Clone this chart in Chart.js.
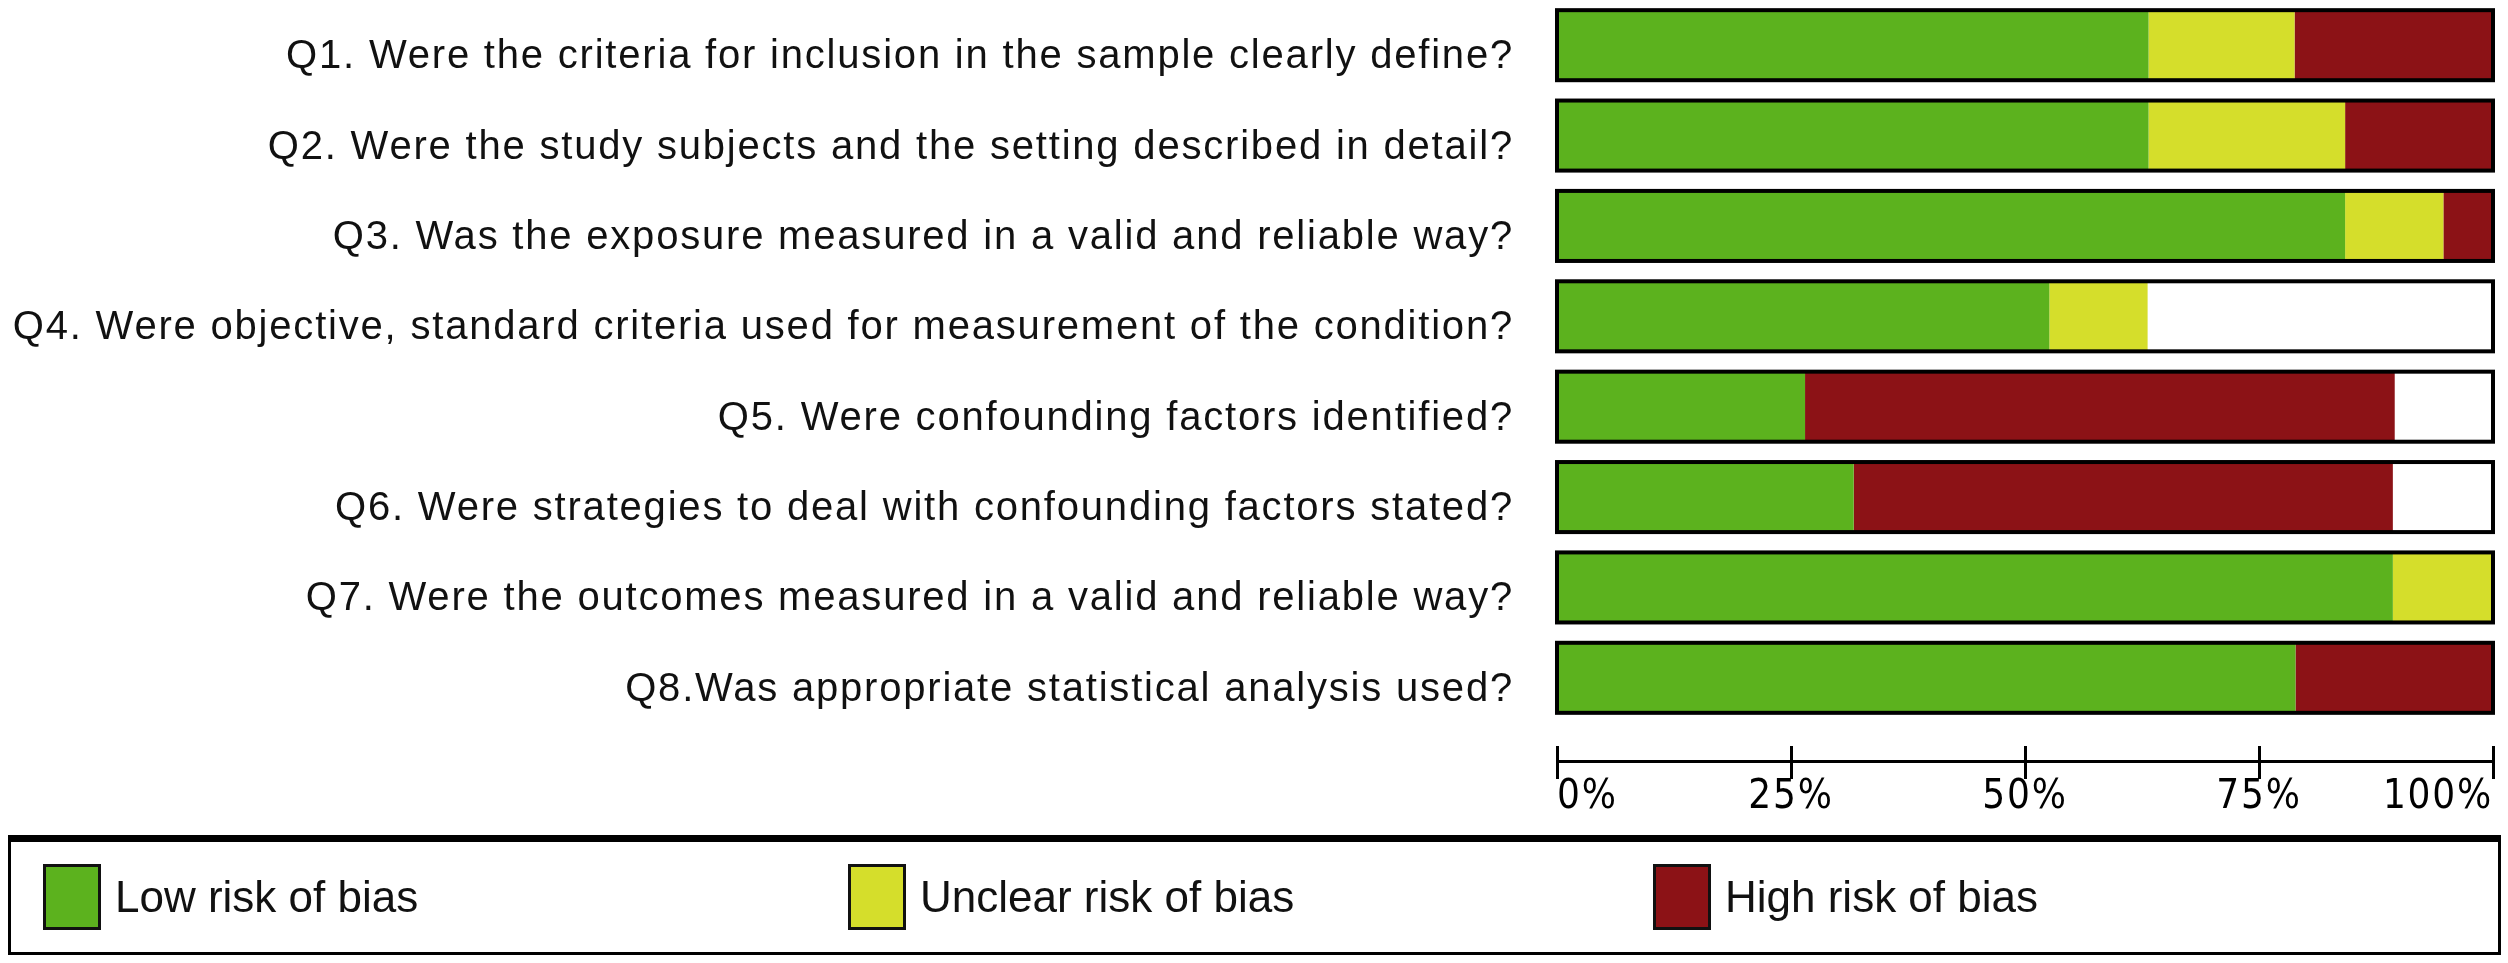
<!DOCTYPE html>
<html>
<head>
<meta charset="utf-8">
<script src="https://cdn.jsdelivr.net/npm/chart.js@4.4.1/dist/chart.umd.min.js"></script>
<style>
  html, body { margin: 0; padding: 0; background: #fff; }
  #wrap { position: relative; width: 2508px; height: 963px; }
  #legend {
    position: absolute; left: 8px; top: 835px; width: 2493px; height: 120px;
    box-sizing: border-box; border: 3px solid #000; border-top-width: 7px;
    display: flex; align-items: center;
  }
  .item { width: 805px; display: flex; align-items: center; padding-left: 32px; box-sizing: border-box; }
  .box { width: 58px; height: 66px; border: 3px solid #111; box-sizing: border-box; }
  .lbl { font: 44px 'Liberation Sans', Arial, sans-serif; color: #111; margin-left: 14px; }
</style>
</head>
<body>
<div id="wrap">
  <canvas id="chart"></canvas>
  <div id="legend"></div>
</div>
<script>
var questions = [
  'Q1. Were the criteria for inclusion in the sample clearly define?',
  'Q2. Were the study subjects and the setting described in detail?',
  'Q3. Was the exposure measured in a valid and reliable way?',
  'Q4. Were objective, standard criteria used for measurement of the condition?',
  'Q5. Were confounding factors identified?',
  'Q6. Were strategies to deal with confounding factors stated?',
  'Q7. Were the outcomes measured in a valid and reliable way?',
  'Q8.Was appropriate statistical analysis used?'
];
// percent of studies per judgement
var lowRisk     = [63.2, 63.2, 84.2, 52.6, 26.5, 31.7, 89.3, 78.9];
var unclearRisk = [15.6, 21.0, 10.5, 10.5, 0,    0,    10.7, 0];
var highRisk    = [21.2, 15.8, 5.3,  0,    63.0, 57.6, 0,    21.1];
var xTicks = [0, 25, 50, 75, 100];

var seriesNames = ['Low risk of bias', 'Unclear risk of bias', 'High risk of bias'];
var seriesColors = ['#5cb21e', '#d5de2b', '#8c1216'];

// black frame round every full 0-100% bar
var barFrames = {
  id: 'barFrames',
  afterDatasetsDraw: function(chart) {
    var ctx = chart.ctx;
    var x = chart.scales.x;
    var meta = chart.getDatasetMeta(0);
    var left = x.getPixelForValue(0), right = x.getPixelForValue(100);
    ctx.save();
    ctx.strokeStyle = '#000';
    ctx.lineWidth = 4;
    meta.data.forEach(function(bar) {
      ctx.strokeRect(left, bar.y - bar.height / 2, right - left, bar.height);
    });
    ctx.restore();
  }
};

// the original lettering is spaced out a bit
var spacedText = {
  id: 'spacedText',
  beforeDraw: function(chart) { chart.ctx.letterSpacing = '1.8px'; },
  afterDraw: function(chart) { chart.ctx.letterSpacing = '0px'; }
};

var axisAt = { y: 7.93 };

new Chart(document.getElementById('chart'), {
  type: 'bar',
  data: {
    labels: questions,
    datasets: [
      { label: seriesNames[0], data: lowRisk, backgroundColor: seriesColors[0] },
      { label: seriesNames[1], data: unclearRisk, backgroundColor: seriesColors[1] },
      { label: seriesNames[2], data: highRisk, backgroundColor: seriesColors[2] }
    ]
  },
  options: {
    indexAxis: 'y',
    responsive: true,
    maintainAspectRatio: false,
    animation: false,
    barPercentage: 0.775,
    categoryPercentage: 1,
    layout: { padding: { left: 0, right: 15, top: 0, bottom: 240 } },
    plugins: { legend: { display: false }, tooltip: { enabled: false } },
    scales: {
      y: {
        stacked: true,
        grid: { display: false },
        border: { display: false },
        ticks: {
          padding: 35,
          labelOffset: 12,
          color: '#111',
          font: { family: "'Liberation Sans', Arial, sans-serif", size: 40 }
        },
        afterFit: function(scale) {
          scale.width = 1557;
          scale.paddingTop = 0;
          scale.paddingBottom = 0;
        }
      },
      x: {
        stacked: true,
        min: 0, max: 100,
        position: axisAt,
        grid: { drawOnChartArea: false, tickLength: 16, color: '#000', lineWidth: 3 },
        border: { display: true, color: '#000', width: 3 },
        afterBuildTicks: function(scale) { scale.ticks = xTicks.map(function(v) { return { value: v }; }); },
        ticks: {
          align: 'inner',
          padding: 0,
          maxRotation: 0,
          color: '#000',
          font: { family: "'Liberation Sans Narrow', 'Arial Narrow', 'DejaVu Sans Condensed', sans-serif", size: 40, lineHeight: 1 },
          callback: function(v) { return v + '%'; }
        }
      },
      x2: {
        type: 'linear',
        min: 0, max: 100,
        position: axisAt,
        grid: { drawOnChartArea: false, tickLength: -16, color: '#000', lineWidth: 3 },
        border: { display: false },
        afterBuildTicks: function(scale) { scale.ticks = xTicks.map(function(v) { return { value: v }; }); },
        ticks: { display: false }
      }
    }
  },
  plugins: [barFrames, spacedText]
});

var legend = document.getElementById('legend');
seriesNames.forEach(function(name, i) {
  var item = document.createElement('div');
  item.className = 'item';
  var box = document.createElement('div');
  box.className = 'box';
  box.style.background = seriesColors[i];
  var lbl = document.createElement('span');
  lbl.className = 'lbl';
  lbl.textContent = name;
  item.appendChild(box);
  item.appendChild(lbl);
  legend.appendChild(item);
});
</script>
</body>
</html>
